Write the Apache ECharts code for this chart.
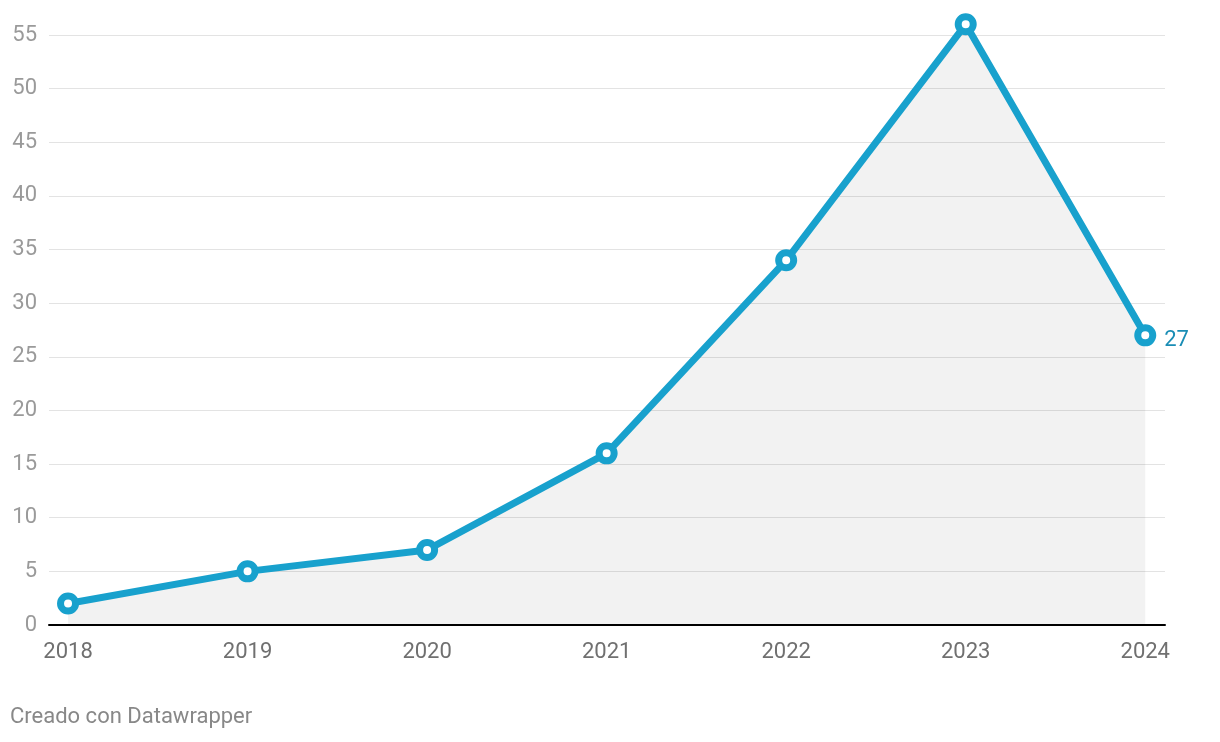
<!DOCTYPE html>
<html>
<head>
<meta charset="utf-8">
<script src="https://cdn.jsdelivr.net/npm/echarts@6/dist/echarts.min.js"></script>
<style>
html,body{margin:0;padding:0;background:#fff;}
#chart{width:1220px;height:742px;}
</style>
</head>
<body>
<div id="chart"></div>
<script>
const years = [2018, 2019, 2020, 2021, 2022, 2023, 2024];
const values = [2, 5, 7, 16, 34, 56, 27];
const yTicks = [0, 5, 10, 15, 20, 25, 30, 35, 40, 45, 50, 55];
const creditText = 'Creado con Datawrapper';

const chart = echarts.init(document.getElementById('chart'));
const font = 'Roboto, "Noto Sans", sans-serif';
const data = years.map((y, i) => [y, values[i]]);

chart.setOption({
  backgroundColor: '#ffffff',
  animation: false,
  grid: { left: 49, right: 55, top: 35, bottom: 117, containLabel: false },
  graphic: [{
    type: 'text', left: 10, top: 706,
    style: { text: creditText, fill: '#888888', font: '22px ' + font }
  }],
  xAxis: {
    type: 'value',
    min: 2017.894,
    max: 2024.11,
    axisLine: { show: true, onZero: false, lineStyle: { color: '#000000', width: 2 } },
    axisTick: { show: false },
    splitLine: { show: false },
    axisLabel: {
      customValues: years,
      color: '#707070',
      fontSize: 22,
      fontFamily: font,
      margin: 16,
      formatter: v => String(v)
    }
  },
  yAxis: {
    type: 'value',
    min: 0,
    max: 55,
    interval: 5,
    axisLine: { show: false },
    axisTick: { show: false },
    splitLine: { lineStyle: { color: '#e3e3e3', width: 1 } },
    axisLabel: {
      customValues: yTicks,
      color: '#9a9a9a',
      fontSize: 22,
      fontFamily: font,
      margin: 12
    }
  },
  series: [{
    type: 'line',
    data: data,
    clip: false,
    z: 3,
    lineStyle: { color: '#18a1cd', width: 7 },
    areaStyle: { color: 'rgba(0,0,0,0.075)', origin: 'start' },
    symbol: 'circle',
    symbolSize: 15,
    itemStyle: { color: '#ffffff', borderColor: '#18a1cd', borderWidth: 7 },
    label: {
      show: true,
      position: 'right',
      distance: 8,
      offset: [0, 5],
      color: '#1a8db5',
      fontSize: 22,
      fontFamily: font,
      formatter: p => p.dataIndex === years.length - 1 ? String(p.value[1]) : ''
    },
    emphasis: { disabled: true }
  }]
});
</script>
</body>
</html>
